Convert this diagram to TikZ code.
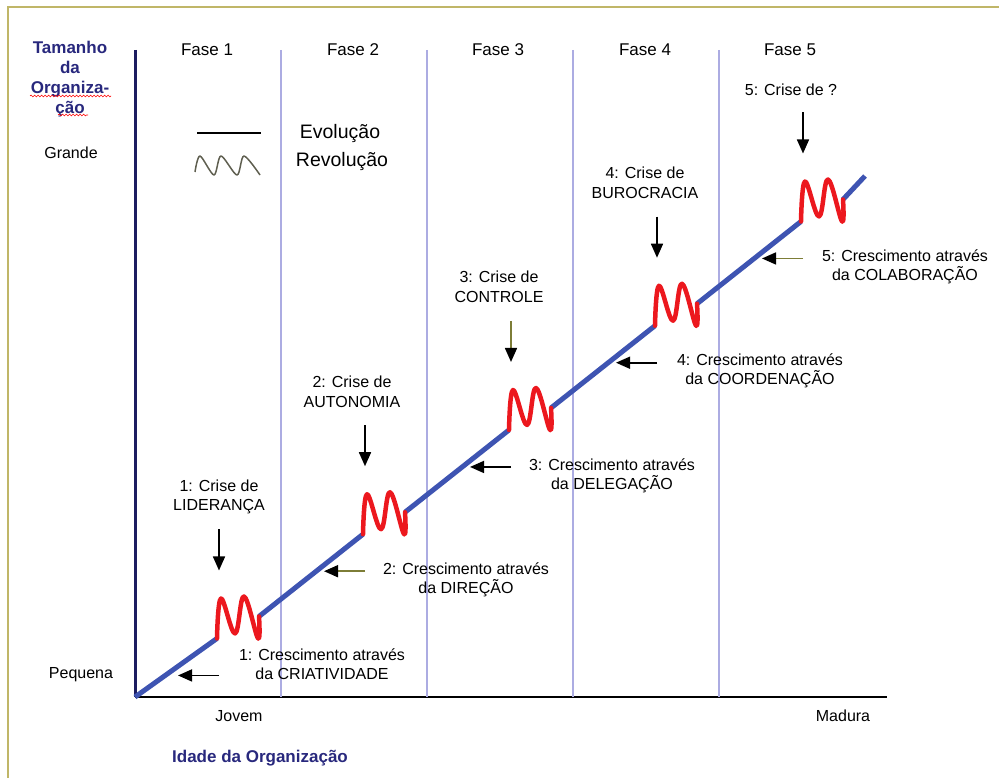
\documentclass[tikz,border=0pt]{standalone}
\usepackage{fontspec}
\setmainfont{Liberation Sans}
\usetikzlibrary{arrows.meta,decorations.pathmorphing}

\definecolor{axisnavy}{RGB}{28,28,96}
\definecolor{titlenavy}{RGB}{40,40,125}
\definecolor{phaselila}{RGB}{172,172,226}
\definecolor{growblue}{RGB}{62,84,178}
\definecolor{revred}{RGB}{236,24,30}
\definecolor{framekhaki}{RGB}{192,182,104}
\definecolor{shaftolive}{RGB}{125,125,55}
\definecolor{legendgray}{RGB}{95,95,80}

\tikzset{
  txt/.style={font=\fontsize{16}{19.5}\selectfont,inner sep=0pt,align=center},
  bigtxt/.style={font=\fontsize{19.5}{22}\selectfont,inner sep=0pt},
  ttl/.style={font=\fontsize{17}{20}\selectfont\bfseries,text=titlenavy,inner sep=0pt,align=center},
  ptr/.style={line width=1.6pt,-{Triangle[width=12pt,length=14pt,color=black]}},
  revol/.style={revred,line width=4.5pt,line join=round,line cap=round},
  growth/.style={growblue,line width=5pt},
  spell/.style={red,line width=0.6pt,decorate,decoration={snake,amplitude=0.9pt,segment length=3.5pt}}
}

\begin{document}
\begin{tikzpicture}[x=1pt,y=-1pt]
\clip (0,0) rectangle (999,778);
\draw[framekhaki,line width=2.5pt] (8,7) rectangle (1030,800);

\coordinate (o) at (135,697);
\coordinate (top) at (865,176);
\draw[axisnavy,line width=3pt] (135,50) -- (o);
\draw[line width=2pt] (o) -- (887,697);
\foreach \x in {281,427,573,719}
  \draw[phaselila,line width=1.5pt] (\x,50) -- (\x,697);
\foreach \i/\x in {1/207,2/353,3/498,4/645,5/790}
  \node[txt,font=\fontsize{17}{20}\selectfont] (fase\i) at (\x,50) {Fase \i};

\node[ttl] (tamanho) at (70,79) {Tamanho\\da\\Organiza-\\ção};
\draw[spell] (30,96) -- (111,96);
\draw[spell] (58,115) -- (88,115);
\node[txt] (grande) at (71,153) {Grande};
\node[txt] (pequena) at (81,675) {Pequena};
\node[txt] (jovem) at (239,716) {Jovem};
\node[txt] (madura) at (843,716) {Madura};
\node[ttl] (idade) at (260,758) {Idade da Organização};

\draw[line width=1.2pt] (197,133) -- (261,133);
\draw[legendgray,line width=1.5pt,line join=round]
  plot[smooth,tension=0.5] coordinates {(195,172) (200,156) (214,175) (221,156) (237,175) (244,156) (260,175)};
\node[bigtxt] (evol) at (340,134) {Evolução};
\node[bigtxt] (revol) at (342,162) {Revolução};

\foreach \k in {1,...,5} {
  \pgfmathsetmacro\ax{217+146*(\k-1)}
  \pgfmathsetmacro\ay{697-0.714*(\ax-135)}
  \coordinate (a\k) at (\ax,\ay);
  \coordinate (b\k) at (\ax+42,\ay-22);
  \coordinate (ct\k) at (\ax+2,\ay-109);
  \coordinate (cb\k) at (\ax+2,\ay-68);
  \coordinate (gt\k) at (\ax-39,\ay+37);
  \coordinate (gs\k) at (\ax+2,\ay+37);
}
\draw[growth] (o) -- (a1) (b1) -- (a2) (b2) -- (a3) (b3) -- (a4) (b4) -- (a5) (b5) -- (top);
\foreach \k in {1,...,5}
  \draw[revol,shift={(a\k)}] plot[smooth,tension=0.65] coordinates {(0,0) (4,-40) (18,-5) (27,-42) (41,0) (42,-22)};

\node[txt] (crise1) at (219,497) {1: Crise de\\LIDERANÇA};
\node[txt] (crise2) at (352,392) {2: Crise de\\AUTONOMIA};
\node[txt] (crise3) at (499,287) {3: Crise de\\CONTROLE};
\node[txt] (crise4) at (645,183) {4: Crise de\\BUROCRACIA};
\node[txt] (crise5) at (791,90) {5: Crise de ?};
\foreach \k in {1,2,4,5}
  \draw[ptr] (ct\k) -- (cb\k);
\draw[ptr,shaftolive] (ct3) -- (cb3);

\node[txt] (cresc1) at (322,664) {1: Crescimento através\\da CRIATIVIDADE};
\node[txt] (cresc2) at (466,580) {2: Crescimento através\\da DIREÇÃO};
\node[txt] (cresc3) at (612,476) {3: Crescimento através\\da DELEGAÇÃO};
\node[txt] (cresc4) at (760,371) {4: Crescimento através\\da COORDENAÇÃO};
\node[txt] (cresc5) at (905,267) {5: Crescimento através\\da COLABORAÇÃO};
\foreach \k in {1,3,4}
  \draw[ptr] (gs\k) -- (gt\k);
\foreach \k in {2,5}
  \draw[ptr,shaftolive] (gs\k) -- (gt\k);
\end{tikzpicture}
\end{document}
